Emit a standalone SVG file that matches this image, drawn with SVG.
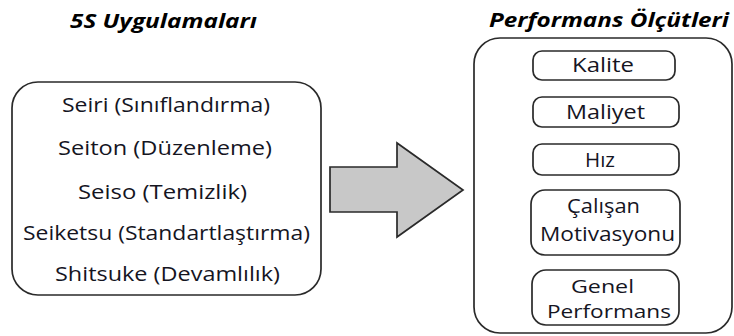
<svg xmlns="http://www.w3.org/2000/svg" width="734" height="336" viewBox="0 0 734 336">
  <style>
    .box { fill: #ffffff; stroke: #2a2a2a; stroke-width: 1.7; }
    .title { font-family: "Open Sans", "Liberation Sans", sans-serif; font-weight: bold; font-style: italic; font-size: 19px; fill: #000; }
    .lbl { font-family: "Open Sans", "Liberation Sans", sans-serif; font-size: 20px; fill: #15151f; }
    .tight { font-size: 18px; }
    .arrow { fill: #c8c8c8; stroke: #2a2a2a; stroke-width: 1.7; stroke-linejoin: miter; }
  </style>
  <rect width="734" height="336" fill="#ffffff"/>

  <!-- 5S practices -->
  <g id="uygulamalar">
    <text class="title" x="70" y="28" textLength="187" lengthAdjust="spacingAndGlyphs">5S Uygulamaları</text>
    <rect class="box" x="12" y="82" width="309" height="213" rx="26" ry="26"/>
    <text class="lbl" x="62" y="112" textLength="208" lengthAdjust="spacingAndGlyphs">Seiri (Sınıflandırma)</text>
    <text class="lbl" x="58" y="155" textLength="214" lengthAdjust="spacingAndGlyphs">Seiton (Düzenleme)</text>
    <text class="lbl" x="78" y="199" textLength="169" lengthAdjust="spacingAndGlyphs">Seiso (Temizlik)</text>
    <text class="lbl" x="23" y="240" textLength="287" lengthAdjust="spacingAndGlyphs">Seiketsu (Standartlaştırma)</text>
    <text class="lbl" x="55" y="281" textLength="225" lengthAdjust="spacingAndGlyphs">Shitsuke (Devamlılık)</text>
  </g>

  <!-- block arrow -->
  <g id="connectors">
    <path class="arrow" d="M330,167 L397,167 L397,143 L463,190 L397,237 L397,212 L330,212 Z"/>
  </g>

  <!-- performance criteria -->
  <g id="olcutler">
    <text class="title" x="489" y="27" textLength="240" lengthAdjust="spacingAndGlyphs">Performans Ölçütleri</text>
    <rect class="box" x="474" y="38" width="258" height="295" rx="26" ry="26"/>
  </g>
  <g id="kalite">
    <rect class="box" x="533" y="51" width="142" height="29" rx="9" ry="9"/>
    <text class="lbl" x="572" y="72" textLength="62" lengthAdjust="spacingAndGlyphs">Kalite</text>
  </g>
  <g id="maliyet">
    <rect class="box" x="533" y="97" width="146" height="30" rx="9" ry="9"/>
    <text class="lbl" x="566" y="119" textLength="79" lengthAdjust="spacingAndGlyphs">Maliyet</text>
  </g>
  <g id="hiz">
    <rect class="box" x="533" y="144" width="146" height="31" rx="9" ry="9"/>
    <text class="lbl" x="585" y="167" textLength="30" lengthAdjust="spacingAndGlyphs">Hız</text>
  </g>
  <g id="motivasyon">
    <rect class="box" x="531" y="190" width="149" height="65" rx="14" ry="14"/>
    <text class="lbl" x="567" y="213" textLength="73" lengthAdjust="spacingAndGlyphs">Çalışan</text>
    <text class="lbl" x="540" y="241" textLength="135" lengthAdjust="spacingAndGlyphs">Motivasyonu</text>
  </g>
  <g id="genel">
    <rect class="box" x="532" y="270" width="147" height="55" rx="14" ry="14"/>
    <text class="lbl tight" x="571" y="293" textLength="63" lengthAdjust="spacingAndGlyphs">Genel</text>
    <text class="lbl tight" x="547" y="318" textLength="124" lengthAdjust="spacingAndGlyphs">Performans</text>
  </g>
</svg>
